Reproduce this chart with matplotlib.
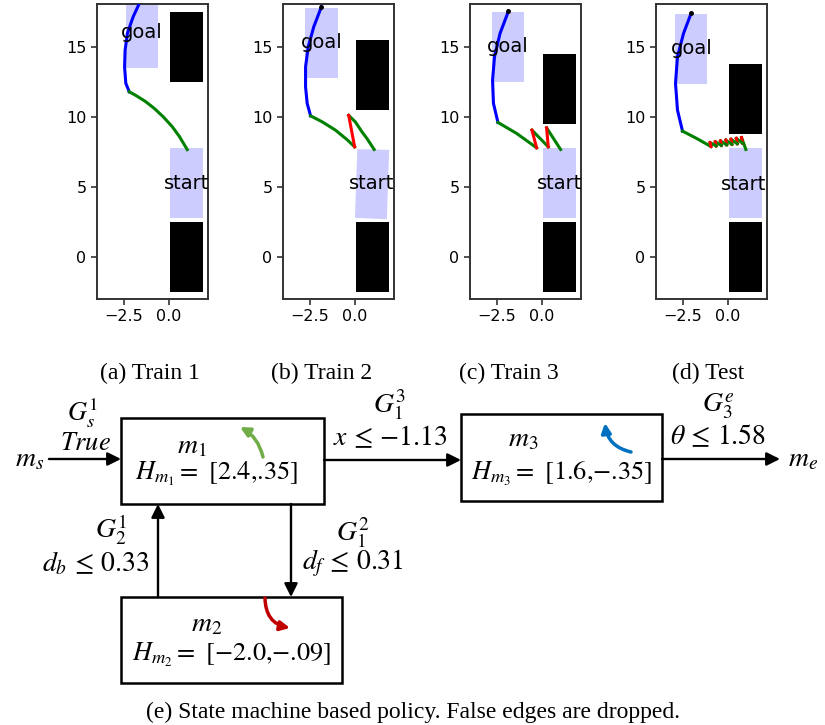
import matplotlib
matplotlib.use('Agg')
import matplotlib.pyplot as plt
from matplotlib.patches import Rectangle, Polygon, FancyArrowPatch

plt.rcParams['mathtext.fontset'] = 'stix'

W, H = 825, 725

# ---- trajectory panels (data coords) ----
captions = ['(a) Train 1', '(b) Train 2', '(c) Train 3', '(d) Test']
caption_x = [150, 322, 509, 708]

blue_paths = [
   [(-1.65, 18.05), (-1.98, 17.14), (-2.30, 15.96), (-2.43, 14.76), (-2.46, 13.57), (-2.39, 12.39), (-2.20, 11.79)],
   [(-1.85, 17.86), (-2.28, 16.43), (-2.59, 15.0), (-2.74, 13.57), (-2.74, 12.14), (-2.65, 10.96), (-2.46, 10.07)],
   [(-1.85, 17.55), (-2.32, 15.96), (-2.63, 14.29), (-2.74, 12.62), (-2.69, 10.96), (-2.44, 9.6)],
   [(-2.04, 17.38), (-2.46, 15.96), (-2.80, 14.29), (-2.91, 12.39), (-2.80, 10.48), (-2.52, 8.98)],
]
green_paths = [
   [[(-2.20, 11.79), (-1.8, 11.5), (-1.3, 11.1), (-0.8, 10.6), (-0.3, 10.0), (0.2, 9.3), (0.6, 8.6), (1.04, 7.66)]],
   [[(-2.46, 10.07), (-1.81, 9.64), (-1.07, 9.05), (-0.43, 8.38), (0.0, 7.86)],
    [(-0.33, 10.1), (0.04, 9.64), (0.41, 8.93), (0.69, 8.45), (1.09, 7.67)]],
   [[(-2.44, 9.6), (-1.39, 8.81), (-0.28, 7.79)],
    [(-0.54, 9.05), (0.37, 7.86)],
    [(0.28, 9.21), (1.06, 7.67)]],
   [[(-2.52, 8.98), (-1.72, 8.45), (-0.93, 7.88)]],
]
red_paths = [
   [],
   [[(0.0, 7.86), (-0.33, 10.1)]],
   [[(-0.28, 7.79), (-0.54, 9.05)], [(0.37, 7.86), (0.28, 9.21)]],
   [],
]
# test panel: small back-and-forth teeth
teeth_high_x = [0.78, 0.49, 0.19, -0.10, -0.40, -0.69, -0.98]
teeth_high_y = [8.52, 8.46, 8.40, 8.34, 8.28, 8.22, 8.16]
teeth_low_x = [0.83, 0.54, 0.24, -0.05, -0.35, -0.64, -0.93]
teeth_low_y = [8.12, 8.08, 8.04, 8.00, 7.96, 7.92, 7.88]
test_start = (1.02, 7.67)

goal_centers = [(-1.5, 16.0), (-1.85, 15.3), (-1.87, 15.0), (-2.03, 14.86)]
obstacle_bottoms = [12.5, 10.5, 9.5, 8.75]
start_boxes = [
   [(0.1, 2.75), (1.9, 2.75), (1.9, 7.75), (0.1, 7.75)],
   [(0.02, 2.79), (1.80, 2.69), (1.93, 7.64), (0.15, 7.69)],
   [(0.1, 2.75), (1.9, 2.75), (1.9, 7.75), (0.1, 7.75)],
   [(0.1, 2.75), (1.9, 2.75), (1.9, 7.75), (0.1, 7.75)],
]
start_labels = [(1.02, 5.24), (0.96, 5.24), (0.98, 5.24), (0.92, 5.2)]

fig = plt.figure(figsize=(W / 100, H / 100), dpi=100)

ax_left = [97, 283, 470, 656]
for i in range(4):
   ax = fig.add_axes([ax_left[i] / W, (H - 299) / H, 111 / W, 295 / H])
   ax.set_xlim(-4.0, 2.2)
   ax.set_ylim(-3.0, 18.05)
   ax.set_xticks([-2.5, 0.0])
   ax.set_yticks([0, 5, 10, 15])
   ax.tick_params(labelsize=11.5, length=4, width=1.2, color='0.2')
   for s in ax.spines.values():
      s.set_linewidth(1.4)
      s.set_color('0.2')

   # obstacles
   ax.add_patch(Rectangle((0.1, -2.5), 1.8, 5.0, color='black', lw=0))
   ax.add_patch(Rectangle((0.1, obstacle_bottoms[i]), 1.8, 5.0, color='black', lw=0))
   # goal / start regions
   gx, gy = goal_centers[i]
   ax.add_patch(Rectangle((gx - 0.9, gy - 2.5), 1.8, 5.0, color='blue', alpha=0.2, lw=0))
   ax.add_patch(Polygon(start_boxes[i], closed=True, color='blue', alpha=0.2, lw=0))

   bx = [p[0] for p in blue_paths[i]]
   by = [p[1] for p in blue_paths[i]]
   ax.plot(bx, by, color='blue', lw=2.2, zorder=3)
   if i > 0:
      ax.plot(bx[0], by[0], 'o', color='black', ms=2.5, zorder=4)
   for seg in green_paths[i]:
      ax.plot([p[0] for p in seg], [p[1] for p in seg], color='green', lw=2.2, zorder=3)
   for seg in red_paths[i]:
      ax.plot([p[0] for p in seg], [p[1] for p in seg], color='red', lw=2.2, zorder=3)
   if i == 3:
      prev = test_start
      for hx, hy, lx, ly in zip(teeth_high_x, teeth_high_y, teeth_low_x, teeth_low_y):
         ax.plot([prev[0], hx], [prev[1], hy], color='green', lw=2.2, zorder=3)
         ax.plot([hx, lx], [hy, ly], color='red', lw=2.2, zorder=3)
         prev = (lx, ly)

   ax.text(gx, gy, 'goal', fontsize=14, ha='center', va='center', zorder=5)
   ax.text(start_labels[i][0], start_labels[i][1], 'start', fontsize=14, ha='center', va='center', zorder=5)

   fig.text(caption_x[i] / W, 1 - 373 / H, captions[i], fontsize=17,
            family='Liberation Serif', ha='center', va='center')

# ---- state machine diagram (pixel coords) ----
d = fig.add_axes([0, 0, 1, 1])
d.set_xlim(0, W)
d.set_ylim(H, 0)
d.axis('off')

boxes = {'m1': (121, 418, 324, 504), 'm3': (461, 414, 662, 501), 'm2': (121, 597, 342, 683)}
for x0, y0, x1, y1 in boxes.values():
   d.add_patch(Rectangle((x0, y0), x1 - x0, y1 - y0, fill=False, lw=1.8, ec='black'))

def arrow(p0, p1):
   d.add_patch(FancyArrowPatch(p0, p1, arrowstyle='-|>', mutation_scale=20, lw=1.7,
                               color='black', shrinkA=0, shrinkB=0))

arrow((49, 459), (121, 459))
arrow((324, 460), (461, 460))
arrow((662, 459), (780, 459))
arrow((158, 597), (158, 504))
arrow((291, 504), (291, 597))

def curl(p0, p1, rad, c):
   d.add_patch(FancyArrowPatch(p0, p1, arrowstyle='-|>', mutation_scale=14, lw=2.5, color=c,
                               connectionstyle=f'arc3,rad={rad}', shrinkA=0, shrinkB=0))

curl((263, 457), (240, 427), 0.22, '#70ad47')
curl((631, 452), (605, 423), -0.35, '#0070c0')
curl((265, 598), (290, 628), 0.4, '#c00000')

fs = 20
labels = [
   ((30, 460), r'$m_s$', fs),
   ((83, 413), r'$G_s^1$', 19),
   ((85, 444), r'$True$', 19),
   ((192, 447), r'$m_1$', fs),
   ((217, 474), r'$H_{m_1} =$ [2.4,.35]', 19),
   ((390, 405), r'$G_1^3$', fs),
   ((390, 438), r'$x\,\leq\,{-}1.13$', fs),
   ((523, 440), r'$m_3$', fs),
   ((562, 474), '$H_{m_3} =$ [1.6,\u2212.35]', 19),
   ((719, 407), r'$G_3^e$', fs),
   ((718, 437), r'$\theta\,\leq\,1.58$', fs),
   ((803, 460), r'$m_e$', fs),
   ((111, 530), r'$G_2^1$', fs),
   ((96, 564), r'$d_b\,\leq\,0.33$', fs),
   ((353, 533), r'$G_1^2$', fs),
   ((353, 563), r'$d_f\,\leq\,0.31$', fs),
   ((207, 625), r'$m_2$', fs),
   ((232, 655), '$H_{m_2} =$ [\u22122.0,\u2212.09]', 19),
]
for (x, y), s, size in labels:
   d.text(x, y, s, fontsize=size, ha='center', va='center', family='STIXGeneral')

d.text(413, 712, '(e) State machine based policy. False edges are dropped.', fontsize=17,
       family='Liberation Serif', ha='center', va='center')

fig.savefig('out.png', dpi=100)
